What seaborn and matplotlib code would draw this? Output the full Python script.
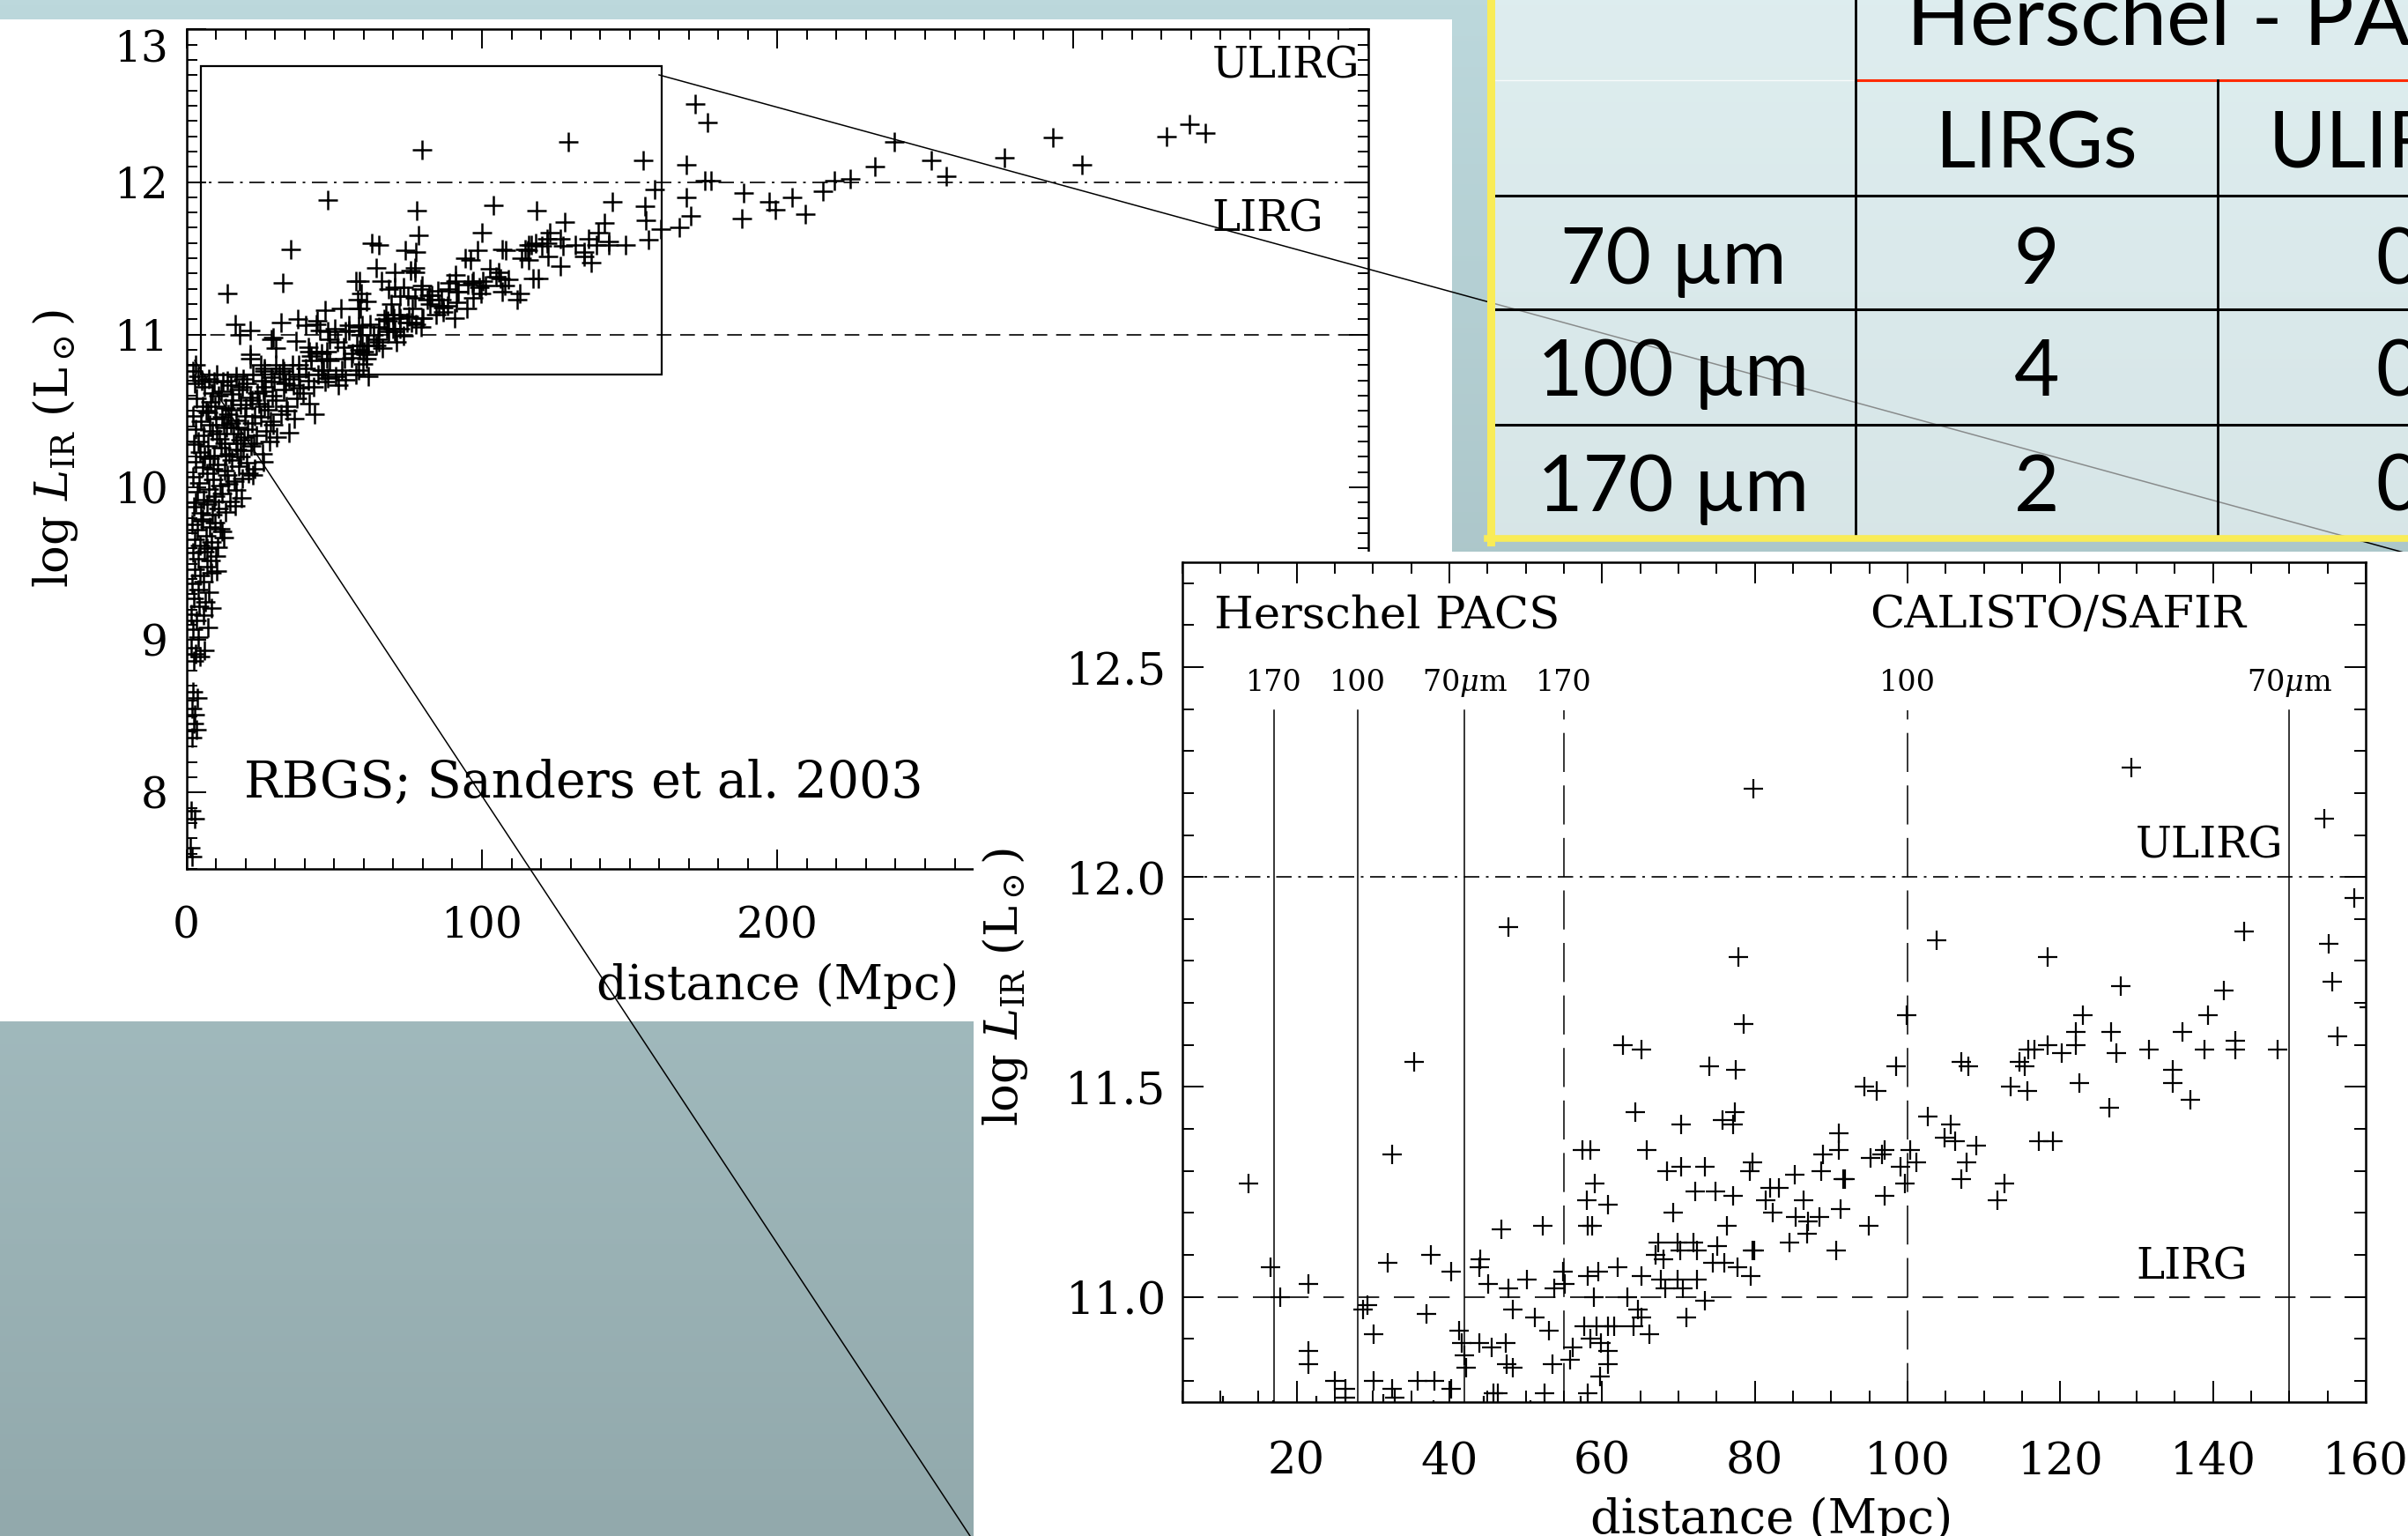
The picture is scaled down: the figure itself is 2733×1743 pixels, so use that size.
import numpy as np
import matplotlib
matplotlib.use("Agg")
import matplotlib.pyplot as plt
from matplotlib.patches import Rectangle
from matplotlib.ticker import MultipleLocator
import seaborn as sns

# --- galaxies inside the zoom box ---
box_dist = [13.7, 16.6, 17.9, 21.5, 21.5, 21.5, 35.4, 32.5, 31.9, 37.6, 40.2, 47.7, 46.8, 52.2,
            44.1, 43.9, 45.1, 47.7, 50.2, 53.7, 54.9, 55.1, 28.7, 29.3, 37.0, 30.1, 41.3, 41.6,
            42.0, 43.9, 45.6, 47.4, 47.5, 48.3, 48.3, 51.2, 53.1, 53.5, 56.2, 55.8, 30.1, 25.0,
            26.4, 26.4, 32.5, 32.8, 35.8, 38.1, 40.2, 42.2, 45.8, 46.4, 52.5,
            77.9, 78.5, 103.8, 99.9, 62.7, 65.2, 74.1, 77.5, 64.3, 70.4, 75.8, 77.4, 77.2, 98.5,
            94.3, 96.0, 107.0, 108.0, 102.7, 105.6, 104.9, 106.2, 107.7, 107.0, 58.5, 57.4, 59.1,
            58.0, 60.8, 58.1, 58.7, 65.9, 68.5, 70.4, 73.5, 69.3, 72.2, 74.9, 77.2, 79.7, 79.3,
            76.4, 82.0, 83.1, 81.4, 82.4, 85.2, 88.9, 88.7, 91.0, 91.0, 91.6, 91.8, 86.4, 85.4,
            87.0, 88.5, 91.2, 86.8, 84.5, 90.6, 94.9, 97.0, 95.2, 96.6, 97.0, 99.1, 99.7, 100.4,
            101.2, 67.4, 69.9, 72.0, 75.1, 67.0, 68.0, 70.2, 72.4, 74.5, 76.0, 79.7, 79.9, 77.7,
            79.5, 65.2, 67.7, 68.3, 69.9, 70.6, 72.4, 73.5, 71.0, 62.0, 59.5, 58.1, 63.3, 58.9,
            64.7, 65.2, 64.1, 66.2, 57.7, 59.3, 60.8, 58.5, 59.9, 61.6, 60.8, 60.8, 59.7, 58.1,
            118.4, 144.1, 158.5, 155.2, 155.6, 156.3, 127.9, 141.4, 139.3, 123.0, 136.0, 122.0,
            122.0, 126.6, 127.4, 131.6, 138.9, 142.9, 142.9, 148.5, 118.3, 120.2, 116.6, 115.8,
            114.7, 115.4, 113.5, 115.7, 122.5, 134.7, 134.7, 137.0, 126.4, 117.2, 119.0, 109.0,
            112.7, 111.8, 79.8, 129.3, 154.6]
box_lir = [11.27, 11.07, 11.00, 11.03, 10.87, 10.84, 11.56, 11.34, 11.08, 11.10, 11.06, 11.88, 11.16, 11.17,
           11.09, 11.07, 11.03, 11.02, 11.04, 11.02, 11.06, 11.03, 10.97, 10.98, 10.96, 10.91, 10.92, 10.89,
           10.86, 10.89, 10.88, 10.89, 10.84, 10.83, 10.97, 10.95, 10.92, 10.84, 10.88, 10.85, 10.80, 10.80,
           10.78, 10.76, 10.78, 10.76, 10.80, 10.80, 10.78, 10.83, 10.77, 10.77, 10.77,
           11.81, 11.65, 11.85, 11.67, 11.60, 11.59, 11.55, 11.54, 11.44, 11.41, 11.42, 11.44, 11.41, 11.55,
           11.50, 11.49, 11.56, 11.55, 11.43, 11.41, 11.38, 11.37, 11.32, 11.28, 11.35, 11.35, 11.27,
           11.23, 11.22, 11.17, 11.17, 11.35, 11.30, 11.31, 11.31, 11.20, 11.25, 11.25, 11.24, 11.32, 11.30,
           11.17, 11.26, 11.26, 11.23, 11.20, 11.29, 11.34, 11.30, 11.39, 11.35, 11.28, 11.28, 11.23, 11.19,
           11.18, 11.19, 11.21, 11.15, 11.13, 11.11, 11.17, 11.24, 11.33, 11.34, 11.35, 11.31, 11.27, 11.35,
           11.32, 11.13, 11.13, 11.13, 11.12, 11.10, 11.09, 11.11, 11.11, 11.08, 11.08, 11.11, 11.11, 11.07,
           11.05, 11.05, 11.04, 11.02, 11.04, 11.02, 11.04, 10.99, 10.95, 11.07, 11.06, 11.05, 11.00, 11.00,
           10.97, 10.95, 10.93, 10.91, 10.93, 10.93, 10.93, 10.90, 10.89, 10.93, 10.87, 10.84, 10.81, 10.77,
           11.81, 11.87, 11.95, 11.84, 11.75, 11.62, 11.74, 11.73, 11.67, 11.67, 11.63, 11.63,
           11.60, 11.63, 11.58, 11.59, 11.59, 11.61, 11.59, 11.59, 11.60, 11.58, 11.59, 11.59,
           11.56, 11.55, 11.50, 11.49, 11.51, 11.54, 11.51, 11.47, 11.45, 11.37, 11.37, 11.36,
           11.27, 11.23, 12.21, 12.26, 12.14]

# --- galaxies beyond the box, main panel only ---
far_dist = [172.2, 176.2, 239.6, 252.1, 257.1, 276.7, 293.1, 303.0, 331.7, 339.5, 344.8, 169.1,
            175.4, 177.6, 169.1, 170.7, 160.5, 166.8, 188.7, 187.9, 197.3, 199.2, 204.9, 209.5,
            215.4, 219.3, 224.7, 233.0, 3.0, 2.2]
far_lir = [12.51, 12.39, 12.26, 12.14, 12.04, 12.16, 12.29, 12.11, 12.30, 12.38, 12.32, 12.11,
           12.01, 12.01, 11.90, 11.78, 11.69, 11.70, 11.93, 11.76, 11.87, 11.82, 11.90, 11.79,
           11.94, 12.01, 12.02, 12.10, 10.80, 10.76]

# --- fainter galaxies (log L < 10.75), main panel only ---
faint_dist = [4.1, 7.6, 10.3, 13.8, 16.9, 19.2, 22.6, 25.3, 28.8, 31.4, 34.7, 37.9, 41.2, 44.5, 47.8,
              50.6, 53.9, 57.2, 61.5,
              2.8, 6.1, 9.4, 11.7, 14.9, 17.8, 20.5, 23.9, 26.7, 29.6, 32.8, 36.2, 39.5, 43.0, 46.9, 51.3,
              3.5, 5.4, 8.2, 10.9, 13.1, 15.6, 18.4, 21.7, 24.4, 27.5, 30.3, 33.9, 37.4, 41.6,
              2.1, 4.8, 7.3, 9.9, 12.6, 14.2, 16.8, 19.7, 22.3, 25.1, 28.4, 31.9, 36.5, 43.2,
              3.2, 5.9, 8.6, 11.2, 13.5, 15.9, 18.2, 20.8, 23.5, 26.9, 30.6, 34.8,
              2.4, 4.6, 7.1, 9.3, 11.8, 14.4, 16.7, 19.1, 21.9, 25.6,
              3.0, 5.5, 7.9, 10.6, 12.9, 15.3, 17.6, 20.4, 23.2, 26.0,
              2.2, 4.4, 6.8, 8.9, 11.3, 13.7, 16.2, 18.9, 22.5,
              3.6, 5.8, 7.6, 9.7, 12.1, 14.6, 16.9, 18.5,
              2.5, 4.9, 6.9, 8.8, 10.8, 13.2, 16.4,
              1.9, 3.8, 5.6, 7.8, 9.6, 11.9,
              2.9, 4.7, 6.6, 8.5, 10.4, 12.6,
              2.1, 4.0, 6.2, 8.1, 9.8,
              2.7, 4.5, 6.9, 8.4, 10.1,
              1.8, 3.9, 5.7, 7.5,
              2.6, 4.3, 6.4, 8.3,
              1.7, 3.4, 5.9, 7.2,
              2.3, 4.1, 6.1,
              1.6, 3.2, 2.4, 4.6,
              2.1, 3.7, 1.8, 2.9,
              2.4, 3.5, 1.9,
              1.5, 2.7, 1.2, 2.0,
              5.2, 8.8, 12.2, 15.4, 18.9, 22.1, 25.9, 29.1, 33.4, 38.3,
              6.7, 9.6, 12.0, 15.1, 17.4, 20.1, 23.0, 26.3, 29.4, 34.1,
              4.0, 7.7, 10.1, 12.8, 14.9, 17.2, 19.6, 22.8, 28.0,
              6.2, 9.0, 13.3, 18.3, 20.9, 3.1, 5.2, 7.0, 9.2, 11.4, 14.0]
faint_lir = [10.73, 10.71, 10.74, 10.70, 10.73, 10.71, 10.74, 10.70, 10.72, 10.745, 10.71, 10.73, 10.70, 10.74, 10.715,
             10.73, 10.705, 10.74, 10.725,
             10.68, 10.66, 10.69, 10.63, 10.67, 10.64, 10.68, 10.62, 10.66, 10.69, 10.64, 10.67, 10.62, 10.66, 10.69, 10.67,
             10.58, 10.53, 10.56, 10.60, 10.52, 10.57, 10.54, 10.59, 10.55, 10.51, 10.57, 10.53, 10.58, 10.55,
             10.47, 10.43, 10.49, 10.45, 10.41, 10.48, 10.44, 10.47, 10.42, 10.46, 10.43, 10.48, 10.45, 10.48,
             10.38, 10.34, 10.37, 10.32, 10.39, 10.35, 10.31, 10.38, 10.34, 10.37, 10.33, 10.36,
             10.28, 10.23, 10.27, 10.21, 10.26, 10.22, 10.29, 10.24, 10.27, 10.22,
             10.17, 10.13, 10.19, 10.15, 10.11, 10.18, 10.14, 10.16, 10.12, 10.17,
             10.07, 10.03, 10.09, 10.05, 10.01, 10.08, 10.04, 10.06, 10.08,
             9.97, 9.92, 9.99, 9.94, 9.96, 9.91, 9.98, 9.93,
             9.87, 9.83, 9.89, 9.82, 9.86, 9.84, 9.88,
             9.76, 9.72, 9.79, 9.74, 9.77, 9.71,
             9.66, 9.62, 9.68, 9.64, 9.61, 9.67,
             9.57, 9.53, 9.58, 9.52, 9.55,
             9.46, 9.42, 9.48, 9.44, 9.45,
             9.37, 9.33, 9.38, 9.31,
             9.27, 9.22, 9.25, 9.21,
             9.17, 9.13, 9.16, 9.08,
             9.07, 9.02, 8.93,
             8.95, 8.91, 8.86, 8.89,
             8.66, 8.62, 8.55, 8.51,
             8.45, 8.41, 8.36,
             7.88, 7.83, 7.64, 7.58,
             10.70, 10.62, 10.69, 10.61, 10.66, 10.57, 10.63, 10.60, 10.68, 10.65,
             10.50, 10.53, 10.46, 10.51, 10.39, 10.52, 10.47, 10.53, 10.41, 10.50,
             10.30, 10.41, 10.35, 10.29, 10.42, 10.25, 10.33, 10.29, 10.30,
             10.20, 10.12, 10.21, 10.20, 10.09, 9.90, 9.78, 9.60, 9.91, 9.73, 10.02]

lirg_level = 11.0
ulirg_level = 12.0

# survey limits drawn in the inset
limit_dist = [17, 28, 42, 55, 100, 150]
limit_text = ["170", "100", r"70$\mu$m", "170", "100", r"70$\mu$m"]
limit_dashed = [False, False, False, True, True, False]

# table
table_rows = ["70 µm", "100 µm", "170 µm"]
table_lirgs = ["9", "4", "2"]
table_ulirgs = ["0", "0", "0"]

all_dist = box_dist + far_dist + faint_dist
all_lir = box_lir + far_lir + faint_lir

plt.rcParams["font.family"] = "DejaVu Serif"
plt.rcParams["mathtext.fontset"] = "dejavuserif"

W, H = 2733, 1743
fig = plt.figure(figsize=(W / 100, H / 100), dpi=100)


def px_rect(left, top, right, bottom):
    return [left / W, 1 - bottom / H, (right - left) / W, (bottom - top) / H]


def pixel_axes(z):
    a = fig.add_axes([0, 0, 1, 1], zorder=z)
    a.set_xlim(0, W)
    a.set_ylim(H, 0)
    a.axis("off")
    a.patch.set_visible(False)
    return a


# slide background + first picture
ax_bg = pixel_axes(0)
t = np.linspace(0, 1, 300)[:, None, None]
top_c = np.array([188, 216, 220]) / 255
bot_c = np.array([146, 169, 172]) / 255
ax_bg.imshow(top_c * (1 - t) + bot_c * t, extent=[0, W, H, 0], aspect="auto")
ax_bg.add_patch(Rectangle((0, 22), 1648, 1159 - 22, color="white", lw=0))

dashed = (0, (10, 6))
dashdot = (0, (10.5, 4.5, 1.8, 4.5))

# ---------------- main panel ----------------
ax = fig.add_axes(px_rect(211.7, 33.3, 1553, 986), zorder=1)
ax.patch.set_visible(False)
ax.axhline(ulirg_level, color="black", lw=1.2, ls=dashdot)
ax.axhline(lirg_level, color="black", lw=1.2, ls=dashed)
ax.add_patch(Rectangle((4.8, 10.74), 155.9, 2.02, fill=False, ec="black", lw=1.6))
sns.scatterplot(x=all_dist, y=all_lir, ax=ax, marker="+", s=250, color="black",
                linewidth=1.8, legend=False)
ax.set_xlim(0, 400)
ax.set_ylim(7.5, 13.0)
ax.set_xticks([0, 100, 200, 300, 400])
ax.set_xticklabels(["0", "100", "200", "300", "400"])
ax.set_yticks([8, 9, 10, 11, 12, 13])
ax.set_yticklabels(["8", "9", "10", "11", "12", "13"])
ax.xaxis.set_minor_locator(MultipleLocator(10))
ax.yaxis.set_minor_locator(MultipleLocator(0.1))
ax.tick_params(which="both", direction="in", top=True, right=True, width=1.4, labelsize=35)
ax.tick_params(which="major", length=16)
ax.tick_params(which="minor", length=8.5)
ax.tick_params(axis="x", pad=30)
ax.tick_params(axis="y", pad=15)
ax.get_yticklabels()[-1].set_va("top")
for s in ax.spines.values():
    s.set_linewidth(1.8)
ax.set_xlabel("distance (Mpc)", fontsize=39)
ax.xaxis.set_label_coords(0.5, -0.1396)
ax.xaxis.label.set_va("center")
ax.set_ylabel(r"log $L_{\rm IR}$ (L$_\odot$)", fontsize=38)
ax.yaxis.set_label_coords(-0.111, 0.5)
ax.yaxis.label.set_va("center")
ax.text(347, 12.684, "ULIRG", fontsize=35, va="baseline")
ax.text(347, 11.675, "LIRG", fontsize=35, va="baseline")
ax.text(19.6, 7.969, "RBGS; Sanders et al. 2003", fontsize=41, va="baseline")

# ---------------- connector lines + table ----------------
ax_top = pixel_axes(2)
ax_top.plot([748, 2733], [85, 628.3], color="black", lw=1.1, zorder=1)
ax_top.plot([221, 1101], [409, 1743], color="black", lw=1.1, zorder=1)

ax_top.add_patch(Rectangle((1693, -20), W - 1693 + 20, 631, color=(0.98, 1, 1),
                           alpha=0.55, lw=0, zorder=2))
ax_top.plot([1697, 2106], [90.6, 90.6], color="white", lw=1, alpha=0.8, zorder=3)
ax_top.plot([2106, W], [90.6, 90.6], color="#ff2a00", lw=2.2, zorder=3)
for yy in [221.6, 351, 481.6]:
    ax_top.plot([1697, W], [yy, yy], color="black", lw=2.2, zorder=3)
ax_top.plot([2106, 2106], [-5, 607], color="black", lw=2.0, zorder=3)
ax_top.plot([2517, 2517], [90.6, 607], color="black", lw=2.0, zorder=3)
ax_top.plot([1692.5, 1692.5], [-5, 615], color="#f9ec57", lw=6.5, zorder=4)
ax_top.plot([1688, W], [611, 611], color="#f9ec57", lw=5.5, zorder=4)

tkw = dict(fontfamily="Lato", fontsize=64, va="baseline", zorder=5)
ax_top.text(2164, 51, "Herschel - PACS", ha="left", fontfamily="Lato", fontsize=68,
            va="baseline", zorder=5)
ax_top.text(2311.5, 190, "LIRGs", ha="center", **tkw)
ax_top.text(2722, 190, "ULIRGs", ha="center", **tkw)
for yb, lab, n1, n2 in zip([322, 449, 580], table_rows, table_lirgs, table_ulirgs):
    ax_top.text(1899, yb, lab, ha="center", **tkw)
    ax_top.text(2311.5, yb, n1, ha="center", **tkw)
    ax_top.text(2722, yb, n2, ha="center", **tkw)

# second picture (inset)
ax_p2 = pixel_axes(3)
ax_p2.add_patch(Rectangle((1105, 626), W - 1105, H - 626, color="white", lw=0))

# ---------------- inset panel ----------------
ins = fig.add_axes(px_rect(1341.6, 638, 2685, 1590.6), zorder=4)
ins.patch.set_visible(False)
ins.axhline(ulirg_level, color="black", lw=1.2, ls=dashdot)
ins.axhline(lirg_level, color="black", lw=1.2, ls=(0, (14, 10)))
for xd, lab, dsh in zip(limit_dist, limit_text, limit_dashed):
    ins.plot([xd, xd], [10.75, 12.398], color="black", lw=1.1,
             ls=(0, (29, 10)) if dsh else "-")
    ins.text(xd, 12.444, lab, fontsize=24, ha="center", va="baseline")
sns.scatterplot(x=all_dist, y=all_lir, ax=ins, marker="+", s=260, color="black",
                linewidth=1.6, legend=False)
ins.set_xlim(5, 160)
ins.set_ylim(10.75, 12.75)
ins.set_xticks([20, 40, 60, 80, 100, 120, 140, 160])
ins.set_xticklabels(["20", "40", "60", "80", "100", "120", "140", "160"])
ins.set_yticks([11.0, 11.5, 12.0, 12.5])
ins.set_yticklabels(["11.0", "11.5", "12.0", "12.5"])
ins.xaxis.set_minor_locator(MultipleLocator(5))
ins.yaxis.set_minor_locator(MultipleLocator(0.1))
ins.tick_params(which="both", direction="in", top=True, right=True, width=1.4, labelsize=37)
ins.tick_params(which="major", length=17)
ins.tick_params(which="minor", length=9.5)
ins.tick_params(axis="x", pad=31)
ins.tick_params(axis="y", pad=13)
for s in ins.spines.values():
    s.set_linewidth(1.8)
ins.set_xlabel("distance (Mpc)", fontsize=39)
ins.xaxis.set_label_coords(0.498, -0.141)
ins.xaxis.label.set_va("center")
ins.set_ylabel(r"log $L_{\rm IR}$ (L$_\odot$)", fontsize=38)
ins.yaxis.set_label_coords(-0.1493, 0.494)
ins.yaxis.label.set_va("center")
ins.text(9.2, 12.594, "Herschel PACS", fontsize=37, va="baseline")
ins.text(95.0, 12.594, "CALISTO/SAFIR", fontsize=37, va="baseline")
ins.text(129.8, 12.045, "ULIRG", fontsize=35, va="baseline")
ins.text(129.9, 11.042, "LIRG", fontsize=35, va="baseline")

fig.savefig("out.png", dpi=100)
